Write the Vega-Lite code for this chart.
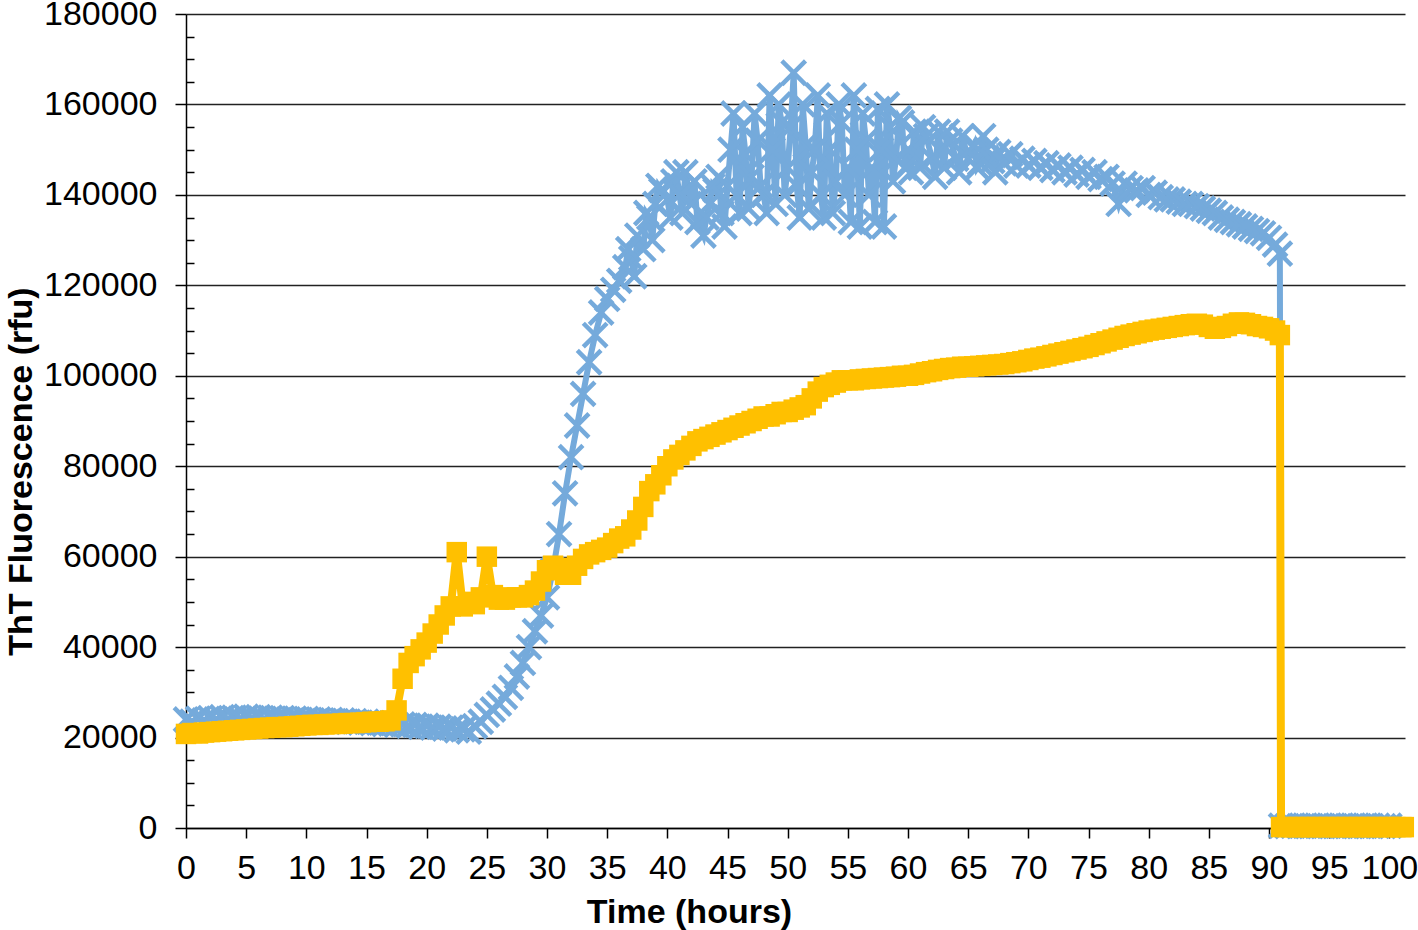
{
  "$schema": "https://vega.github.io/schema/vega-lite/v6.json",
  "width": 1219,
  "height": 814,
  "autosize": "none",
  "padding": {"left": 186, "top": 14, "right": 13, "bottom": 102},
  "background": "white",
  "config": {"view": {"stroke": null}, "font": "Liberation Sans"},
  "datasets": {
    "blue": [
      {"t":0,"v":24000},{"t":0.5,"v":23500},{"t":1,"v":24200},{"t":1.5,"v":23800},{"t":2,"v":24300},{"t":2.5,"v":24000},{"t":3,"v":24500},{"t":3.5,"v":24100},{"t":4,"v":24400},{"t":4.5,"v":24200},
      {"t":5,"v":24600},{"t":5.5,"v":24300},{"t":6,"v":24500},{"t":6.5,"v":24100},{"t":7,"v":24400},{"t":7.5,"v":24200},{"t":8,"v":24300},{"t":8.5,"v":24000},{"t":9,"v":24200},{"t":9.5,"v":23900},
      {"t":10,"v":24100},{"t":10.5,"v":23800},{"t":11,"v":24000},{"t":11.5,"v":23700},{"t":12,"v":23900},{"t":12.5,"v":23600},{"t":13,"v":23800},{"t":13.5,"v":23500},{"t":14,"v":23600},{"t":14.5,"v":23300},
      {"t":15,"v":23500},{"t":15.5,"v":23200},{"t":16,"v":23300},{"t":16.5,"v":23000},{"t":17,"v":23100},{"t":17.5,"v":22800},{"t":18,"v":22900},{"t":18.5,"v":22600},{"t":19,"v":22800},{"t":19.5,"v":22400},
      {"t":20,"v":22600},{"t":20.5,"v":22200},{"t":21,"v":22400},{"t":21.5,"v":22000},{"t":22,"v":22200},{"t":22.5,"v":21600},{"t":23,"v":21800},{"t":23.5,"v":21300},{"t":24,"v":22500},{"t":24.5,"v":23500},
      {"t":25,"v":25000},{"t":25.5,"v":26200},{"t":26,"v":27500},{"t":26.5,"v":29000},{"t":27,"v":31000},{"t":27.5,"v":33500},{"t":28,"v":36500},{"t":28.5,"v":40000},{"t":29,"v":43500},{"t":29.5,"v":47000},
      {"t":30,"v":51000},{"t":30.5,"v":57000},{"t":31,"v":65000},{"t":31.5,"v":74000},{"t":32,"v":82000},{"t":32.5,"v":89000},{"t":33,"v":96000},{"t":33.5,"v":103000},{"t":34,"v":109000},{"t":34.5,"v":114000},
      {"t":35,"v":117000},{"t":35.5,"v":119000},{"t":36,"v":121000},{"t":36.5,"v":124000},{"t":37,"v":126000},{"t":37.5,"v":131000},{"t":38,"v":128000},{"t":38.5,"v":135000},{"t":39,"v":138000},{"t":39.5,"v":141000},
      {"t":40,"v":139000},{"t":40.5,"v":143000},{"t":41,"v":140000},{"t":41.5,"v":145000},{"t":42,"v":138000},{"t":42.5,"v":134000},{"t":43,"v":131000},{"t":43.5,"v":138000},{"t":44,"v":141000},{"t":44.5,"v":136000},
      {"t":45,"v":142000},{"t":45.5,"v":158000},{"t":46,"v":136000},{"t":46.5,"v":149000},{"t":47,"v":144000},{"t":47.5,"v":152000},{"t":48,"v":140000},{"t":48.5,"v":162000},{"t":49,"v":138000},{"t":49.5,"v":156000},
      {"t":50,"v":146000},{"t":50.5,"v":167000},{"t":51,"v":135000},{"t":51.5,"v":151000},{"t":52,"v":145000},{"t":52.5,"v":162000},{"t":53,"v":135000},{"t":53.5,"v":150000},{"t":54,"v":143000},{"t":54.5,"v":156000},
      {"t":55,"v":146000},{"t":55.5,"v":162000},{"t":56,"v":133000},{"t":56.5,"v":152000},{"t":57,"v":146000},{"t":57.5,"v":159000},{"t":58,"v":133000},{"t":58.5,"v":155000},{"t":59,"v":148000},{"t":59.5,"v":156000},
      {"t":60,"v":150000},{"t":60.5,"v":154000},{"t":61,"v":146000},{"t":61.5,"v":153000},{"t":62,"v":148000},{"t":62.5,"v":154000},{"t":63,"v":146000},{"t":63.5,"v":152000},{"t":64,"v":148000},{"t":64.5,"v":153000},
      {"t":65,"v":148000},{"t":65.5,"v":151000},{"t":66,"v":147000},{"t":66.5,"v":150000},{"t":67,"v":147500},{"t":67.5,"v":149500},{"t":68,"v":147000},{"t":68.5,"v":149000},{"t":69,"v":146500},{"t":69.5,"v":148000},
      {"t":70,"v":146500},{"t":70.5,"v":147500},{"t":71,"v":146000},{"t":71.5,"v":147000},{"t":72,"v":145500},{"t":72.5,"v":146500},{"t":73,"v":145000},{"t":73.5,"v":146000},{"t":74,"v":144500},{"t":74.5,"v":145500},
      {"t":75,"v":144000},{"t":75.5,"v":145000},{"t":76,"v":143500},{"t":76.5,"v":144000},{"t":77,"v":142500},{"t":77.5,"v":138000},{"t":78,"v":142500},{"t":78.5,"v":141500},{"t":79,"v":141000},{"t":79.5,"v":141500},
      {"t":80,"v":140000},{"t":80.5,"v":140500},{"t":81,"v":139500},{"t":81.5,"v":139000},{"t":82,"v":139000},{"t":82.5,"v":138500},{"t":83,"v":138000},{"t":83.5,"v":138000},{"t":84,"v":137500},{"t":84.5,"v":137000},
      {"t":85,"v":136500},{"t":85.5,"v":136000},{"t":86,"v":135000},{"t":86.5,"v":134500},{"t":87,"v":134000},{"t":87.5,"v":133500},{"t":88,"v":133000},{"t":88.5,"v":132500},{"t":89,"v":132000},{"t":89.5,"v":131500},
      {"t":90,"v":130500},{"t":90.5,"v":129000},{"t":90.9,"v":127000},{"t":91,"v":500},{"t":91.5,"v":400},{"t":92,"v":500},{"t":92.5,"v":400},{"t":93,"v":500},{"t":93.5,"v":400},{"t":94,"v":500},
      {"t":94.5,"v":400},{"t":95,"v":500},{"t":95.5,"v":400},{"t":96,"v":500},{"t":96.5,"v":400},{"t":97,"v":500},{"t":97.5,"v":400},{"t":98,"v":500},{"t":98.5,"v":400},{"t":99,"v":500},{"t":99.5,"v":400},{"t":100,"v":500},
      {"t":36.75,"v":128000},{"t":37.25,"v":122000},{"t":38.25,"v":136000},{"t":38.75,"v":130000},{"t":39.25,"v":142000},{"t":40.25,"v":135000},{"t":40.75,"v":145000},{"t":41.25,"v":136000},{"t":42.25,"v":143000},{"t":43.25,"v":135000},{"t":43.75,"v":142000},
      {"t":44.25,"v":144000},{"t":44.75,"v":133000},{"t":45.25,"v":150000},{"t":45.75,"v":140000},{"t":46.25,"v":155000},{"t":46.75,"v":137000},{"t":47.25,"v":158000},{"t":47.75,"v":142000},{"t":48.25,"v":136000},{"t":48.75,"v":150000},
      {"t":49.25,"v":160000},{"t":49.75,"v":140000},{"t":50.25,"v":155000},{"t":50.75,"v":142000},{"t":51.25,"v":160000},{"t":51.75,"v":137000},{"t":52.25,"v":150000},{"t":52.75,"v":140000},{"t":53.25,"v":158000},{"t":53.75,"v":136000},
      {"t":54.25,"v":160000},{"t":54.75,"v":140000},{"t":55.25,"v":134000},{"t":55.75,"v":150000},{"t":56.25,"v":158000},{"t":56.75,"v":140000},{"t":57.25,"v":134000},{"t":57.75,"v":150000},{"t":58.25,"v":160000},{"t":58.75,"v":143000},
      {"t":59.25,"v":157000},{"t":59.75,"v":146000},{"t":60.25,"v":145000},{"t":61.25,"v":155000},{"t":62.25,"v":144000},{"t":63.25,"v":154000},{"t":64.25,"v":145000},{"t":65.75,"v":146000},{"t":66.25,"v":153000},{"t":67.25,"v":145000}
    ],
    "orange": [
      {"t":0,"v":20800},{"t":0.5,"v":21000},{"t":1,"v":20900},{"t":1.5,"v":21100},{"t":2,"v":21200},{"t":2.5,"v":21300},{"t":3,"v":21400},{"t":3.5,"v":21500},{"t":4,"v":21600},{"t":4.5,"v":21700},
      {"t":5,"v":21800},{"t":5.5,"v":21900},{"t":6,"v":22000},{"t":6.5,"v":22100},{"t":7,"v":22200},{"t":7.5,"v":22300},{"t":8,"v":22300},{"t":8.5,"v":22400},{"t":9,"v":22500},{"t":9.5,"v":22600},
      {"t":10,"v":22700},{"t":10.5,"v":22800},{"t":11,"v":22800},{"t":11.5,"v":22900},{"t":12,"v":23000},{"t":12.5,"v":23000},{"t":13,"v":23100},{"t":13.5,"v":23200},{"t":14,"v":23200},{"t":14.5,"v":23300},
      {"t":15,"v":23400},{"t":15.5,"v":23500},{"t":16,"v":23500},{"t":16.5,"v":23600},{"t":17,"v":23800},{"t":17.5,"v":26000},{"t":18,"v":33000},{"t":18.5,"v":36500},{"t":19,"v":38000},{"t":19.5,"v":39500},
      {"t":20,"v":41000},{"t":20.5,"v":43000},{"t":21,"v":45000},{"t":21.5,"v":47000},{"t":22,"v":49000},{"t":22.5,"v":61000},{"t":23,"v":49000},{"t":23.5,"v":50000},{"t":24,"v":49500},{"t":24.5,"v":51000},
      {"t":25,"v":60000},{"t":25.5,"v":51500},{"t":26,"v":50500},{"t":26.5,"v":50500},{"t":27,"v":51000},{"t":27.5,"v":51000},{"t":28,"v":51000},{"t":28.5,"v":51500},{"t":29,"v":52500},{"t":29.5,"v":54500},
      {"t":30,"v":57000},{"t":30.5,"v":58000},{"t":31,"v":57500},{"t":31.5,"v":56000},{"t":32,"v":56000},{"t":32.5,"v":58000},{"t":33,"v":59500},{"t":33.5,"v":60500},{"t":34,"v":61000},{"t":34.5,"v":61500},
      {"t":35,"v":62000},{"t":35.5,"v":63000},{"t":36,"v":64000},{"t":36.5,"v":64500},{"t":37,"v":66000},{"t":37.5,"v":68000},{"t":38,"v":71000},{"t":38.5,"v":74500},{"t":39,"v":76000},{"t":39.5,"v":78000},
      {"t":40,"v":80000},{"t":40.5,"v":81500},{"t":41,"v":82500},{"t":41.5,"v":83500},{"t":42,"v":84500},{"t":42.5,"v":85500},{"t":43,"v":86000},{"t":43.5,"v":86500},{"t":44,"v":87000},{"t":44.5,"v":87500},
      {"t":45,"v":88000},{"t":45.5,"v":88500},{"t":46,"v":89000},{"t":46.5,"v":89500},{"t":47,"v":90000},{"t":47.5,"v":90500},{"t":48,"v":91000},{"t":48.5,"v":91000},{"t":49,"v":91500},{"t":49.5,"v":92000},
      {"t":50,"v":92000},{"t":50.5,"v":92500},{"t":51,"v":93000},{"t":51.5,"v":93500},{"t":52,"v":95000},{"t":52.5,"v":96500},{"t":53,"v":97500},{"t":53.5,"v":98000},{"t":54,"v":98500},{"t":54.5,"v":99000},
      {"t":55,"v":99000},{"t":55.5,"v":99000},{"t":56,"v":99200},{"t":56.5,"v":99300},{"t":57,"v":99400},{"t":57.5,"v":99500},{"t":58,"v":99600},{"t":58.5,"v":99700},{"t":59,"v":99800},{"t":59.5,"v":100000},
      {"t":60,"v":100000},{"t":60.5,"v":100200},{"t":61,"v":100500},{"t":61.5,"v":100800},{"t":62,"v":101000},{"t":62.5,"v":101300},{"t":63,"v":101500},{"t":63.5,"v":101700},{"t":64,"v":101800},{"t":64.5,"v":102000},
      {"t":65,"v":102000},{"t":65.5,"v":102100},{"t":66,"v":102200},{"t":66.5,"v":102300},{"t":67,"v":102400},{"t":67.5,"v":102500},{"t":68,"v":102600},{"t":68.5,"v":102800},{"t":69,"v":103000},{"t":69.5,"v":103200},
      {"t":70,"v":103500},{"t":70.5,"v":103800},{"t":71,"v":104000},{"t":71.5,"v":104300},{"t":72,"v":104600},{"t":72.5,"v":104900},{"t":73,"v":105200},{"t":73.5,"v":105500},{"t":74,"v":105800},{"t":74.5,"v":106100},
      {"t":75,"v":106400},{"t":75.5,"v":106800},{"t":76,"v":107200},{"t":76.5,"v":107600},{"t":77,"v":108000},{"t":77.5,"v":108400},{"t":78,"v":108800},{"t":78.5,"v":109100},{"t":79,"v":109400},{"t":79.5,"v":109700},
      {"t":80,"v":110000},{"t":80.5,"v":110200},{"t":81,"v":110400},{"t":81.5,"v":110600},{"t":82,"v":110800},{"t":82.5,"v":111000},{"t":83,"v":111200},{"t":83.5,"v":111400},{"t":84,"v":111500},{"t":84.5,"v":111300},
      {"t":85,"v":110800},{"t":85.5,"v":110400},{"t":86,"v":110600},{"t":86.5,"v":111000},{"t":87,"v":111500},{"t":87.5,"v":111800},{"t":88,"v":111700},{"t":88.5,"v":111400},{"t":89,"v":111000},{"t":89.5,"v":110800},
      {"t":90,"v":110500},{"t":90.5,"v":110000},{"t":90.9,"v":109000},{"t":91,"v":200},{"t":91.5,"v":200},{"t":92,"v":200},{"t":92.5,"v":200},{"t":93,"v":200},{"t":93.5,"v":200},{"t":94,"v":200},
      {"t":94.5,"v":200},{"t":95,"v":200},{"t":95.5,"v":200},{"t":96,"v":200},{"t":96.5,"v":200},{"t":97,"v":200},{"t":97.5,"v":200},{"t":98,"v":200},{"t":98.5,"v":200},{"t":99,"v":200},{"t":99.5,"v":200},
      {"t":100,"v":200},{"t":100.5,"v":200},{"t":101,"v":200},{"t":101.2,"v":200}
    ]
  },
  "encoding": {
    "x": {
      "field": "t", "type": "quantitative",
      "scale": {"domain": [0, 101.3], "nice": false, "zero": false},
      "axis": {
        "values": [0,5,10,15,20,25,30,35,40,45,50,55,60,65,70,75,80,85,90,95,100],
        "grid": false,
        "domainColor": "black", "domainWidth": 1.5,
        "tickColor": "black", "tickWidth": 1.5, "tickSize": 10,
        "labelFont": "Liberation Sans", "labelFontSize": 34, "labelColor": "black", "labelPadding": 13,
        "labelFlush": false, "labelOverlap": false,
        "title": "Time (hours)", "titleFont": "Liberation Sans", "titleFontSize": 34, "titleFontWeight": "bold", "titleColor": "black",
        "titleX": 503, "titleY": 94, "titleAnchor": null, "titleAlign": "center", "titleBaseline": "alphabetic"
      }
    }
  },
  "layer": [
    {
      "data": {"name": "blue"},
      "mark": {"type": "line", "color": "#75AADB", "strokeWidth": 6},
      "encoding": {
        "y": {
          "field": "v", "type": "quantitative",
          "scale": {"domain": [0, 180000], "nice": false},
          "axis": {
            "orient": "left",
            "values": [0,20000,40000,60000,80000,100000,120000,140000,160000,180000],
            "format": "d",
            "grid": true, "gridColor": "#222222", "gridWidth": 1.5,
            "domainColor": "black", "domainWidth": 1.5,
            "tickColor": "black", "tickWidth": 1.5, "tickSize": 11,
            "labelFont": "Liberation Sans", "labelFontSize": 34, "labelColor": "black", "labelPadding": 18,
            "labelFlush": false, "labelOverlap": false,
            "title": "ThT Fluorescence (rfu)", "titleFont": "Liberation Sans", "titleFontSize": 34, "titleFontWeight": "bold", "titleColor": "black",
            "titleAngle": 270, "titleX": -155, "titleY": 457, "titleAnchor": null, "titleAlign": "center", "titleBaseline": "alphabetic"
          }
        }
      }
    },
    {
      "data": {"name": "blue"},
      "mark": {"type": "point", "shape": "M-1,-1L1,1M-1,1L1,-1", "size": 560, "filled": false, "color": "#75AADB", "strokeWidth": 4.5, "opacity": 1},
      "encoding": {
        "y": {
          "field": "v", "type": "quantitative",
          "scale": {"domain": [0, 180000], "nice": false},
          "axis": {
            "orient": "left",
            "values": [5000,10000,15000,25000,30000,35000,45000,50000,55000,65000,70000,75000,85000,90000,95000,105000,110000,115000,125000,130000,135000,145000,150000,155000,165000,170000,175000],
            "grid": false, "domain": false, "labels": false, "title": null,
            "tickColor": "black", "tickWidth": 1.5, "tickSize": -8
          }
        }
      }
    },
    {
      "data": {"name": "orange"},
      "mark": {"type": "line", "color": "#FFC000", "strokeWidth": 8},
      "encoding": {"y": {"field": "v", "type": "quantitative", "scale": {"domain": [0, 180000], "nice": false}, "axis": null}}
    },
    {
      "data": {"name": "orange"},
      "mark": {"type": "point", "shape": "square", "size": 420, "filled": true, "color": "#FFC000", "strokeWidth": 0, "opacity": 1},
      "encoding": {"y": {"field": "v", "type": "quantitative", "scale": {"domain": [0, 180000], "nice": false}, "axis": null}}
    }
  ],
  "resolve": {"axis": {"y": "independent"}}
}
